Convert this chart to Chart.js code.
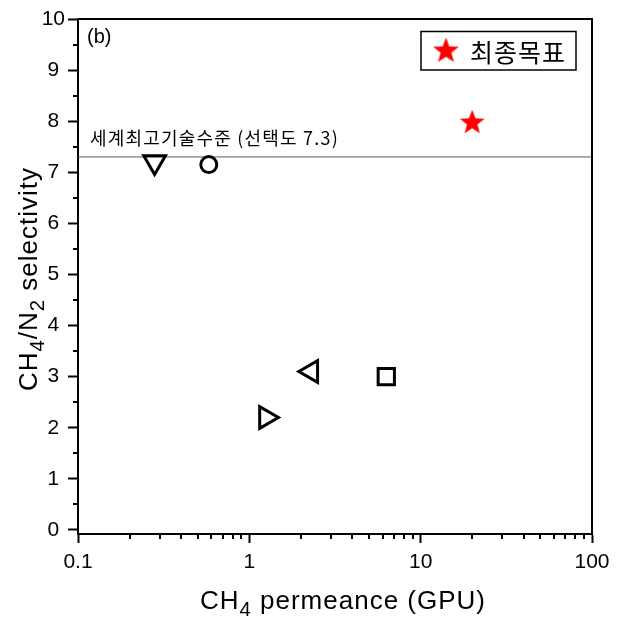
<!DOCTYPE html>
<html><head><meta charset="utf-8">
<script src="https://cdn.jsdelivr.net/npm/chart.js@4.4.1/dist/chart.umd.min.js"></script>
<style>html,body{margin:0;padding:0;background:#fff;overflow:hidden}#wrap{width:625px;height:633px}</style>
</head><body><div id="wrap"><canvas id="c" width="625" height="633"></canvas></div>
<script>
// ---- data ----
const refLabels = ['ref A', 'ref B', 'ref C', 'ref D', 'ref E'];
const refPermeance = [0.28, 0.58, 2.3, 6.3, 1.25];
const refSelectivity = [7.2, 7.15, 3.1, 3.0, 2.2];
const targetLabel = '최종목표';
const targetPermeance = [20];
const targetSelectivity = [7.97];
const benchmarkRange = [0.1, 100];
const benchmarkValue = 7.3;
const benchmarkLabel = '세계최고기술수준 (선택도 7.3)';
const panelLabel = '(b)';
const xTickValues = [0.1, 1, 10, 100];
const yTickValues = [0, 1, 2, 3, 4, 5, 6, 7, 8, 9, 10];
const xTitleParts = [['CH', 0], ['4', 1], [' permeance (GPU)', 0]];
const yTitleParts = [['CH', 0], ['4', 1], ['/N', 0], ['2', 1], [' selectivity', 0]];

// ---- styles ----
const refStyles = [
  { pointStyle: 'triangle', rotation: 180, radius: 12.5 },
  { pointStyle: 'circle', rotation: 0, radius: 8 },
  { pointStyle: 'triangle', rotation: 270, radius: 12.5 },
  { pointStyle: 'rect', rotation: 0, radius: 11.5 },
  { pointStyle: 'triangle', rotation: 90, radius: 12.5 }
];
const LATIN = "'Liberation Sans', Arial, sans-serif";
const KOR = "'Noto Sans CJK KR', sans-serif";

function makeStar(R, color) {
  const s = Math.ceil(2 * R + 2);
  const c = document.createElement('canvas');
  c.width = s; c.height = s;
  const g = c.getContext('2d');
  g.fillStyle = color;
  g.beginPath();
  for (let k = 0; k < 10; k++) {
    const r = k % 2 ? R * 0.42 : R;
    const a = -Math.PI / 2 + k * Math.PI / 5;
    g.lineTo(s / 2 + r * Math.cos(a), s / 2 + r * Math.sin(a));
  }
  g.closePath();
  g.fill();
  return c;
}
const starImg = makeStar(13, '#ff0000');
const legendStar = makeStar(13.5, '#ff0000');

const datasets = [{
  type: 'line', label: 'benchmark',
  data: benchmarkRange.map(x => ({ x, y: benchmarkValue })),
  borderColor: '#5a5a5a', borderWidth: 1, pointRadius: 0, fill: false, order: 10
}];
refPermeance.forEach((x, i) => {
  const st = refStyles[i];
  datasets.push({
    label: refLabels[i],
    data: [{ x, y: refSelectivity[i] }],
    pointStyle: st.pointStyle, rotation: st.rotation, pointRadius: st.radius,
    borderColor: '#000', borderWidth: 3, backgroundColor: 'rgba(0,0,0,0)', order: 1
  });
});
datasets.push({
  label: targetLabel,
  data: targetPermeance.map((x, i) => ({ x, y: targetSelectivity[i] })),
  pointStyle: starImg, pointRadius: 13, order: 0
});

function drawRich(ctx, parts, size, cx, cy, angle) {
  ctx.save();
  ctx.translate(cx, cy);
  ctx.rotate(angle);
  ctx.fillStyle = '#000';
  ctx.textBaseline = 'alphabetic';
  ctx.textAlign = 'left';
  try { ctx.letterSpacing = '1px'; } catch (e) {}
  let total = 0;
  const w = parts.map(p => {
    ctx.font = (p[1] ? size * 0.78 : size) + 'px ' + LATIN;
    const m = ctx.measureText(p[0]).width;
    total += m;
    return m;
  });
  let x = -total / 2;
  parts.forEach((p, i) => {
    ctx.font = (p[1] ? size * 0.78 : size) + 'px ' + LATIN;
    ctx.fillText(p[0], x, p[1] ? size * 0.27 : 0);
    x += w[i];
  });
  ctx.restore();
}

function spacedText(ctx, text, x, y, spacing) {
  ctx.save();
  try { ctx.letterSpacing = spacing + 'px'; } catch (e) {}
  ctx.fillText(text, x, y);
  ctx.restore();
}

const decor = {
  id: 'decor',
  afterDraw(chart) {
    const ctx = chart.ctx;
    const a = chart.chartArea;
    const xs = chart.scales.x, ys = chart.scales.y;
    ctx.save();
    ctx.strokeStyle = '#000';
    // top & right frame
    ctx.lineWidth = 2;
    ctx.beginPath();
    ctx.moveTo(a.left - 1, a.top);
    ctx.lineTo(a.right, a.top);
    ctx.lineTo(a.right, a.bottom + 1);
    ctx.stroke();
    // minor ticks
    ctx.lineWidth = 2;
    ctx.beginPath();
    for (let v = 0.5; v < 10; v += 1) {
      const py = Math.round(ys.getPixelForValue(v));
      ctx.moveTo(a.left - 5, py); ctx.lineTo(a.left, py);
    }
    [0.1, 1, 10].forEach(d => {
      for (let m = 2; m <= 9; m++) {
        const px = Math.round(xs.getPixelForValue(d * m));
        ctx.moveTo(px, a.bottom); ctx.lineTo(px, a.bottom + 5);
      }
    });
    ctx.stroke();
    // axis titles
    drawRich(ctx, xTitleParts, 26, 343, 609, 0);
    drawRich(ctx, yTitleParts, 26, 37, 279, -Math.PI / 2);
    // panel label
    ctx.fillStyle = '#000';
    ctx.font = '20px ' + LATIN;
    ctx.textAlign = 'left';
    ctx.textBaseline = 'alphabetic';
    ctx.fillText(panelLabel, 87, 43);
    // benchmark annotation
    ctx.font = '18px ' + KOR;
    spacedText(ctx, benchmarkLabel, a.left + 12, ys.getPixelForValue(benchmarkValue) - 12, 1.2);
    // legend
    ctx.lineWidth = 1.5;
    ctx.strokeRect(421, 31.5, 155, 38.5);
    ctx.drawImage(legendStar, 446 - legendStar.width / 2, 51 - legendStar.height / 2);
    ctx.font = '25px ' + KOR;
    ctx.textBaseline = 'middle';
    spacedText(ctx, targetLabel, 470, 52, 1);
    ctx.restore();
  }
};

new Chart(document.getElementById('c'), {
  type: 'scatter',
  data: { datasets },
  options: {
    responsive: false, animation: false, devicePixelRatio: 1,
    layout: { padding: { top: 19, right: 33, left: 0, bottom: 0 } },
    plugins: { legend: { display: false }, tooltip: { enabled: false } },
    scales: {
      x: {
        type: 'logarithmic', min: 0.1, max: 100,
        afterBuildTicks: s => { s.ticks = xTickValues.map(v => ({ value: v })); },
        afterFit: s => { s.height = 99; },
        ticks: { callback: v => String(v), font: { family: LATIN, size: 21 }, color: '#000', padding: 7, maxRotation: 0, autoSkip: false },
        grid: { drawOnChartArea: false, tickLength: 9, tickWidth: 2, tickColor: '#000' },
        border: { color: '#000', width: 2 }
      },
      y: {
        type: 'linear', min: -0.08, max: 10,
        afterBuildTicks: s => { s.ticks = yTickValues.map(v => ({ value: v })); },
        afterFit: s => { s.width = 78; },
        ticks: { callback: v => String(v), font: { family: LATIN, size: 21 }, color: '#000', padding: 3, crossAlign: 'center', autoSkip: false },
        grid: { drawOnChartArea: false, tickLength: 10, tickWidth: 2, tickColor: '#000' },
        border: { color: '#000', width: 2 }
      }
    }
  },
  plugins: [decor]
});
</script></body></html>
